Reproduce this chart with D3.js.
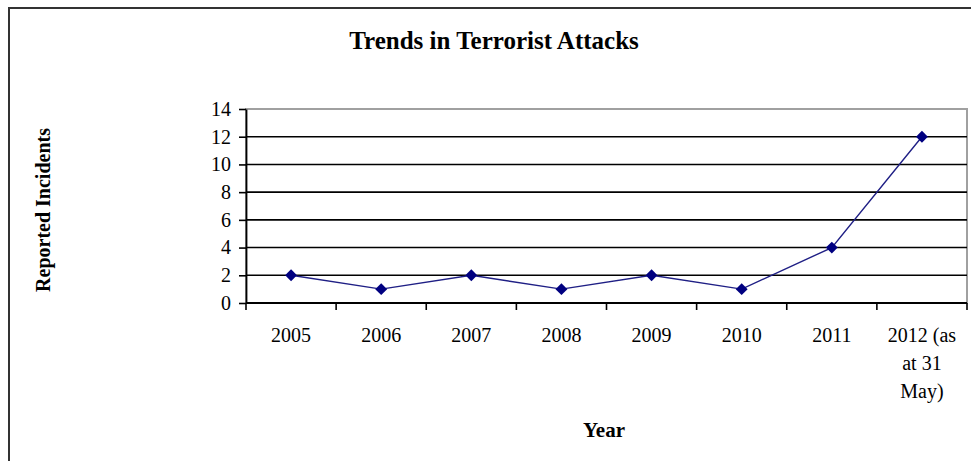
<!DOCTYPE html>
<html>
<head>
<meta charset="utf-8">
<script src="https://cdn.jsdelivr.net/npm/d3@7/dist/d3.min.js"></script>
<style>
  html, body { margin: 0; padding: 0; background: #fff; }
  svg { display: block; }
  text { font-family: "Liberation Serif", "Times New Roman", serif; fill: #000; }
</style>
</head>
<body>
<svg id="chart" width="971" height="461"></svg>
<script>
const categories = ["2005", "2006", "2007", "2008", "2009", "2010", "2011", "2012 (as|at 31|May)"];
const incidents = [2, 1, 2, 1, 2, 1, 4, 12];
const yTicks = [0, 2, 4, 6, 8, 10, 12, 14];
const titleText = "Trends in Terrorist Attacks";
const yLabel = "Reported Incidents";
const xLabel = "Year";

const svg = d3.select("#chart");
const W = 971, H = 461;
const plot = { left: 246, right: 967, top: 109, bottom: 303 };

// outer frame
svg.append("rect")
  .attr("x", 9).attr("y", 8)
  .attr("width", W + 20).attr("height", H + 20)
  .attr("fill", "none").attr("stroke", "#333").attr("stroke-width", 2);

const x = d3.scaleBand().domain(categories).range([plot.left, plot.right]).padding(0);
const y = d3.scaleLinear().domain([0, 14]).range([plot.bottom, plot.top]);

// plot area border (gray)
svg.append("rect")
  .attr("x", plot.left).attr("y", plot.top)
  .attr("width", plot.right - plot.left).attr("height", plot.bottom - plot.top)
  .attr("fill", "none").attr("stroke", "#a0a0a0").attr("stroke-width", 2);

// gridlines
svg.append("g").selectAll("line")
  .data(yTicks.filter(t => t > 0 && t < 14))
  .join("line")
  .attr("x1", plot.left).attr("x2", plot.right)
  .attr("y1", d => y(d)).attr("y2", d => y(d))
  .attr("stroke", "#000").attr("stroke-width", 1.6);

// y axis
const yAxis = d3.axisLeft(y).tickValues(yTicks).tickSize(7).tickSizeOuter(0).tickPadding(8);
const gy = svg.append("g").attr("transform", `translate(${plot.left},0)`).call(yAxis);
gy.select(".domain").attr("stroke", "#000").attr("stroke-width", 1.8);
gy.selectAll(".tick line").attr("stroke", "#000").attr("stroke-width", 1.6);
gy.selectAll(".tick text")
  .style("font-family", "'Liberation Serif', serif").style("font-size", "20px").attr("fill", "#000");

// x axis with ticks at band boundaries
const boundaries = categories.map(c => x(c)).concat([plot.right]);
svg.append("line")
  .attr("x1", plot.left).attr("x2", plot.right)
  .attr("y1", plot.bottom).attr("y2", plot.bottom)
  .attr("stroke", "#000").attr("stroke-width", 1.8);
svg.append("g").selectAll("line").data(boundaries).join("line")
  .attr("x1", d => d).attr("x2", d => d)
  .attr("y1", plot.bottom).attr("y2", plot.bottom + 7)
  .attr("stroke", "#000").attr("stroke-width", 1.6);

// x labels
const xl = svg.append("g").selectAll("text").data(categories).join("text")
  .attr("x", d => x(d) + x.bandwidth() / 2)
  .attr("y", 342)
  .attr("text-anchor", "middle")
  .style("font-size", "20px");
xl.each(function(d) {
  const t = d3.select(this);
  d.split("|").forEach((s, i) => {
    t.append("tspan").attr("x", x(d) + x.bandwidth() / 2).attr("dy", i === 0 ? 0 : 28).text(s);
  });
});

// line
const line = d3.line()
  .x((d, i) => x(categories[i]) + x.bandwidth() / 2)
  .y(d => y(d));
svg.append("path").datum(incidents)
  .attr("d", line).attr("fill", "none")
  .attr("stroke", "#1f1f85").attr("stroke-width", 1.4);

// markers
svg.append("g").selectAll("path").data(incidents).join("path")
  .attr("transform", (d, i) => `translate(${x(categories[i]) + x.bandwidth() / 2},${y(d)})`)
  .attr("d", d3.symbol().type(d3.symbolDiamond2).size(90))
  .attr("fill", "#000080");

// title
svg.append("text")
  .attr("x", 494).attr("y", 49)
  .attr("text-anchor", "middle")
  .style("font-size", "25px").style("font-weight", "bold")
  .text(titleText);

// y label
svg.append("text")
  .attr("transform", "translate(50,210) rotate(-90)")
  .attr("text-anchor", "middle")
  .style("font-size", "20px").style("font-weight", "bold")
  .text(yLabel);

// x label
svg.append("text")
  .attr("x", 604).attr("y", 437)
  .attr("text-anchor", "middle")
  .style("font-size", "21px").style("font-weight", "bold")
  .text(xLabel);
</script>
</body>
</html>
